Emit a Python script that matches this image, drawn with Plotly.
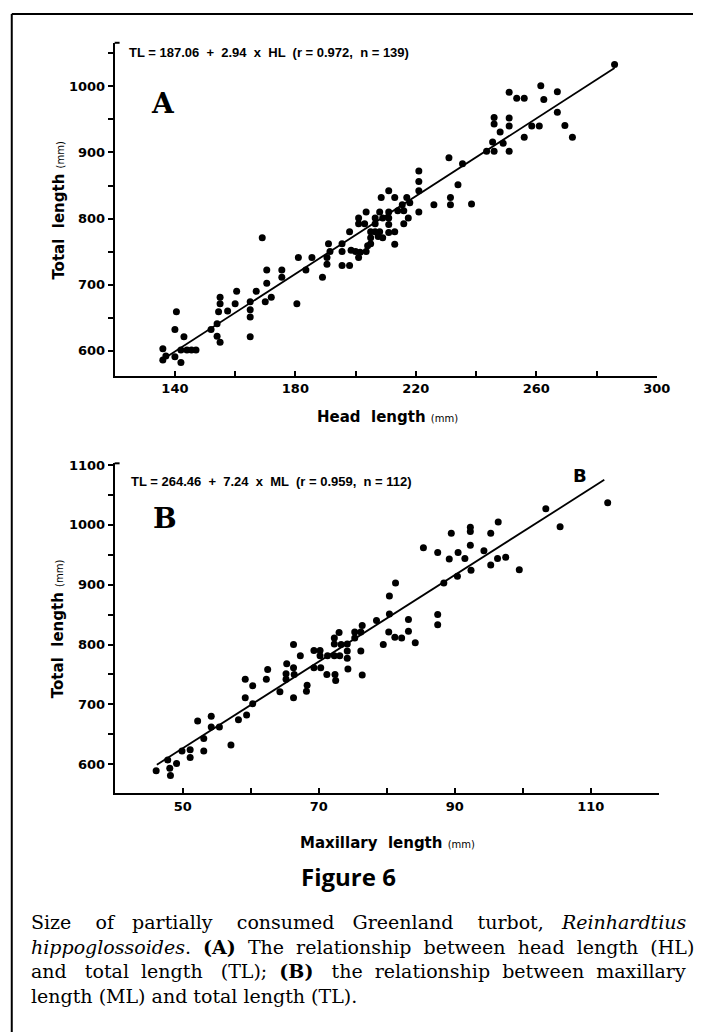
import plotly.graph_objects as go

W, H = 707, 1032

# ---------------- Data: panel A (head length vs total length) ----------------
hl = [136, 136, 137, 140, 142, 140, 140.5, 143, 142, 144, 145.5, 147,
      152, 154, 155, 154, 154.5, 155, 155, 157.5, 160, 160.5, 165, 165,
      165, 165, 167, 170, 170.5, 170.5, 172, 169, 175.5, 175.5, 180.5, 181,
      183.5, 185.5, 189, 190.5, 190.5, 191, 191.5, 195.5, 195.5, 195.5, 198, 198.5,
      198, 201, 201.5, 200, 203.5, 204, 201, 201, 203, 203.5, 205, 205,
      205, 206.5, 206.5, 206.5, 207.5, 208, 209, 208.5, 209, 211, 211, 211,
      211, 211, 213, 213, 213, 214, 215.5, 216, 216, 217, 218, 217.5,
      221, 221, 221, 221, 226, 231, 231.5, 231.5, 234, 235.5, 238.5, 243.5,
      245.5, 246, 246, 246, 248, 249, 251, 251, 251, 251, 253.5, 256,
      256, 258.5, 261, 261.5, 262.5, 267, 267, 269.5, 272, 286, 208]
tl_a = [586, 603, 592, 591, 582, 632, 659, 621, 601, 601, 601, 601,
        632, 622, 613, 641, 659, 671, 681, 660, 671, 690, 674, 662,
        651, 621, 690, 674, 702, 722, 681, 771, 711, 722, 671, 741,
        722, 741, 711, 731, 741, 762, 750, 762, 750, 729, 729, 752,
        780, 741, 749, 750, 750, 759, 801, 792, 792, 810, 780, 771,
        762, 801, 792, 780, 773, 810, 801, 832, 771, 842, 810, 801,
        791, 779, 832, 780, 761, 812, 821, 812, 792, 832, 824, 801,
        872, 856, 842, 810, 821, 892, 832, 821, 851, 883, 822, 902,
        916, 902, 953, 943, 931, 914, 902, 952, 940, 991, 982, 982,
        923, 940, 940, 1001, 980, 992, 961, 941, 923, 1033, 780]

# ---------------- Data: panel B (maxillary length vs total length) ----------------
ml = [46.1, 47.8, 48.1, 48.2, 49.1, 49.9, 51.1, 51.1, 52.2, 53.1, 53.1, 54.2,
      54.2, 55.4, 57.1, 58.2, 59.4, 59.2, 59.2, 60.3, 60.3, 62.3, 62.5, 64.3,
      65.2, 65.2, 65.3, 66.3, 66.3, 66.4, 66.3, 67.3, 68.3, 68.2, 69.3, 69.3,
      70.2, 70.2, 70.3, 71.3, 71.2, 72.3, 72.3, 72.3, 72.4, 72.5, 73.1, 73.0,
      73.3, 74.2, 74.2, 74.2, 74.3, 75.3, 75.3, 76.2, 76.4, 76.2, 76.4, 78.5,
      79.5, 80.3, 80.4, 80.4, 81.3, 81.2, 82.2, 83.2, 83.2, 84.2, 85.4, 87.5,
      87.5, 87.5, 88.4, 89.2, 89.5, 90.4, 90.5, 91.5, 92.3, 92.3, 92.3, 92.4,
      94.3, 95.3, 95.3, 96.3, 96.4, 97.5, 99.5, 103.4, 105.5, 112.5]
tl_b = [589, 607, 593, 581, 601, 622, 624, 611, 672, 643, 622, 680,
        662, 662, 632, 674, 682, 711, 742, 731, 701, 742, 758, 721,
        742, 751, 768, 800, 761, 750, 711, 781, 732, 722, 790, 761,
        790, 781, 761, 781, 750, 811, 801, 781, 750, 740, 781, 820,
        800, 801, 789, 777, 759, 821, 811, 821, 832, 789, 749, 840,
        800, 821, 851, 881, 903, 812, 811, 842, 822, 803, 962, 954,
        850, 833, 903, 943, 986, 914, 954, 944, 996, 989, 966, 924,
        957, 986, 933, 944, 1005, 946, 925, 1027, 997, 1037]

# regression lines (from the printed equations)
fit_a = (187.06, 2.94)
fit_b = (264.46, 7.24)
line_a_x = [135, 286]
line_b_x = [46.2, 112]

a_xticks = [120, 140, 160, 180, 200, 220, 240, 260, 280, 300]
a_xlabels = ["", "140", "", "180", "", "220", "", "260", "", "300"]
a_yticks = [600, 650, 700, 750, 800, 850, 900, 950, 1000, 1050]
a_ylabels = ["600", "", "700", "", "800", "", "900", "", "1000", ""]
b_xticks = [40, 50, 60, 70, 80, 90, 100, 110, 120]
b_xlabels = ["", "50", "", "70", "", "90", "", "110", ""]
b_yticks = [600, 650, 700, 750, 800, 850, 900, 950, 1000, 1050, 1100]
b_ylabels = ["600", "", "700", "", "800", "", "900", "", "1000", "", "1100"]


def fx(p):
    return p / W


def fy(p):
    return 1 - p / H


fig = go.Figure()
fig.add_trace(go.Scatter(x=hl, y=tl_a, mode="markers", xaxis="x", yaxis="y",
                         marker=dict(color="black", size=7), showlegend=False))
fig.add_trace(go.Scatter(x=line_a_x, y=[fit_a[0] + fit_a[1] * v for v in line_a_x],
                         mode="lines", xaxis="x", yaxis="y",
                         line=dict(color="black", width=1.8), showlegend=False))
fig.add_trace(go.Scatter(x=ml, y=tl_b, mode="markers", xaxis="x2", yaxis="y2",
                         marker=dict(color="black", size=7), showlegend=False))
fig.add_trace(go.Scatter(x=line_b_x, y=[fit_b[0] + fit_b[1] * v for v in line_b_x],
                         mode="lines", xaxis="x2", yaxis="y2",
                         line=dict(color="black", width=1.8), showlegend=False))

tickfont = dict(family="DejaVu Sans", size=13, color="black", weight="bold")
axcommon = dict(showline=True, linecolor="black", linewidth=2, showgrid=False,
                zeroline=False, tickcolor="black", tickwidth=1.5, ticklen=5,
                tickfont=tickfont, tickmode="array")

fig.update_layout(
    width=W, height=H, margin=dict(l=0, r=0, t=0, b=0),
    paper_bgcolor="white", plot_bgcolor="white",
    xaxis=dict(domain=[fx(117), fx(670)], range=[120, 300], anchor="y",
               tickvals=a_xticks, ticktext=a_xlabels, ticks="inside", **axcommon),
    yaxis=dict(domain=[fy(372), fy(37)], range=[562, 1066], anchor="x",
               tickvals=a_yticks, ticktext=a_ylabels, ticks="outside", **axcommon),
    xaxis2=dict(domain=[fx(117), fx(672)], range=[40, 120], anchor="y2",
                tickvals=b_xticks, ticktext=b_xlabels, ticks="inside", **axcommon),
    yaxis2=dict(domain=[fy(792), fy(460)], range=[551, 1103], anchor="x2",
                tickvals=b_yticks, ticktext=b_ylabels, ticks="outside", **axcommon),
)

shapes = [
    # frame
    dict(type="line", xref="paper", yref="paper", x0=fx(12), x1=fx(12), y0=fy(8), y1=0,
         line=dict(color="black", width=2)),
    dict(type="line", xref="paper", yref="paper", x0=fx(12), x1=1, y0=fy(8), y1=fy(8),
         line=dict(color="black", width=2)),
    # bracket hooks at top of y axes
    dict(type="line", xref="paper", yref="paper", x0=fx(117), x1=fx(122), y0=fy(37), y1=fy(37),
         line=dict(color="black", width=2)),
    dict(type="line", xref="paper", yref="paper", x0=fx(117), x1=fx(122), y0=fy(460), y1=fy(460),
         line=dict(color="black", width=2)),
]
fig.update_layout(shapes=shapes)

sans_b = dict(family="DejaVu Sans", color="black", weight="bold")
ann = [
    dict(x=fx(130), y=fy(47), xanchor="left", yanchor="middle",
         text="TL = 187.06  +  2.94  x  HL  (r = 0.972,  n = 139)",
         font=dict(family="Liberation Sans", size=13, color="black", weight="bold")),
    dict(x=fx(132), y=fy(478), xanchor="left", yanchor="middle",
         text="TL = 264.46  +  7.24  x  ML  (r = 0.959,  n = 112)",
         font=dict(family="Liberation Sans", size=13, color="black", weight="bold")),
    dict(x=fx(166), y=fy(98), text="A", xanchor="center", yanchor="middle",
         font=dict(family="DejaVu Serif", size=28, color="black", weight="bold")),
    dict(x=fx(168), y=fy(515), text="B", xanchor="center", yanchor="middle",
         font=dict(family="DejaVu Serif", size=28, color="black", weight="bold")),
    dict(x=fx(592), y=fy(472), text="B", xanchor="center", yanchor="middle",
         font=dict(family="DejaVu Sans", size=18, color="black", weight="bold")),
    dict(x=fx(60), y=fy(205), text="Total  length <span style='font-size:10px;font-weight:normal'>(mm)</span>",
         textangle=-90, xanchor="center", yanchor="middle", font=dict(size=15, **sans_b)),
    dict(x=fx(60), y=fy(626), text="Total  length <span style='font-size:10px;font-weight:normal'>(mm)</span>",
         textangle=-90, xanchor="center", yanchor="middle", font=dict(size=15, **sans_b)),
    dict(x=fx(395), y=fy(413), text="Head  length <span style='font-size:10px;font-weight:normal'>(mm)</span>",
         xanchor="center", yanchor="middle", font=dict(size=15, **sans_b)),
    dict(x=fx(395), y=fy(842), text="Maxillary  length <span style='font-size:10px;font-weight:normal'>(mm)</span>",
         xanchor="center", yanchor="middle", font=dict(size=15, **sans_b)),
    dict(x=fx(356), y=fy(876), text="Figure 6", xanchor="center", yanchor="middle",
         font=dict(family="Open Sans", size=24, color="black", weight="bold")),
]
n1 = "&nbsp; "
n2 = "&nbsp;&nbsp; "
n3 = "&nbsp;&nbsp;&nbsp; "
cap_lines = [
    "Size" + n3 + "of" + n2 + "partially" + n3 + "consumed" + n2 + "Greenland" + n3
    + "turbot," + n2 + "<i>Reinhardtius</i>",
    n1.join(["<i>hippoglossoides</i>.", "<b>(A)</b>", "The", "relationship", "between",
             "head", "length", "(HL)"]),
    "and" + n2 + "total" + n1 + "length" + n2 + "(TL);" + n1 + "<b>(B)</b>" + n2 + "the"
    + n1 + "relationship" + n1 + "between" + n1 + "maxillary",
    "length (ML) and total length (TL).",
]
cap_y = [921, 946, 971, 996]
for t, yy in zip(cap_lines, cap_y):
    ann.append(dict(x=fx(30), y=fy(yy), text=t, xanchor="left", yanchor="middle",
                    font=dict(family="DejaVu Serif", size=19, color="black")))
for a in ann:
    a.update(xref="paper", yref="paper", showarrow=False)
fig.update_layout(annotations=ann)

fig.write_html("out.html")
